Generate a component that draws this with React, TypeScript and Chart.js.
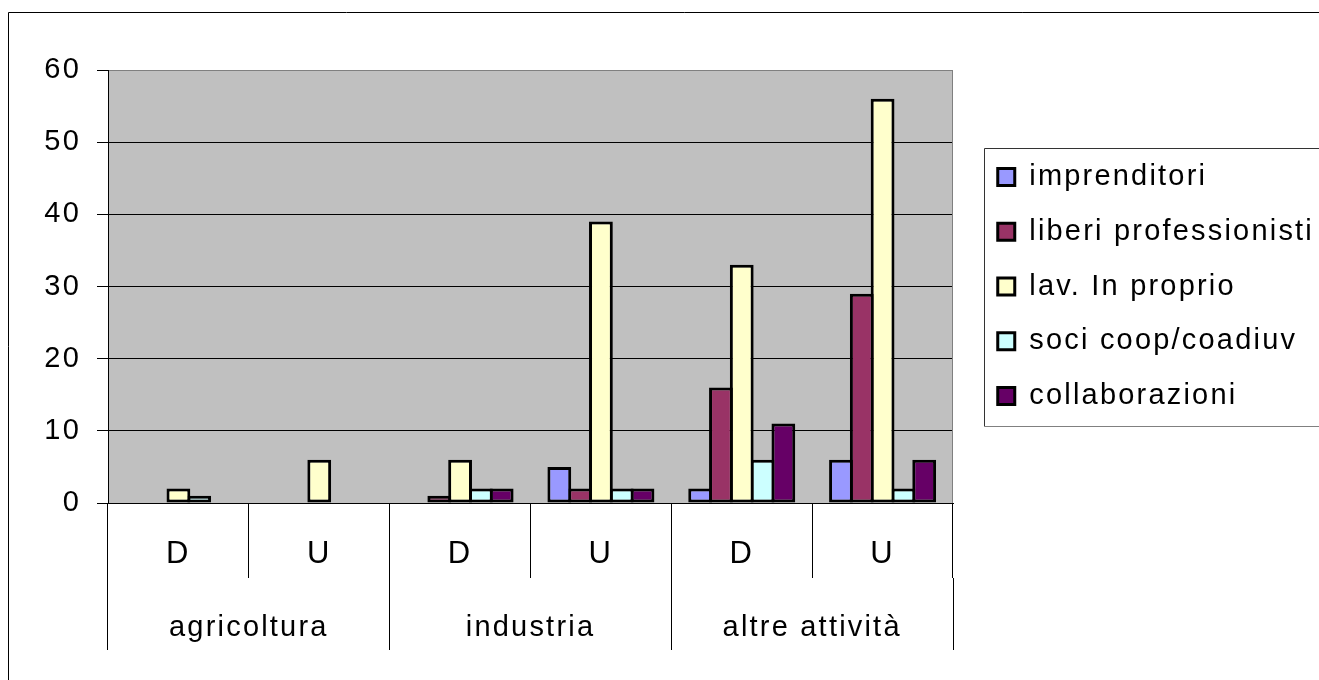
import { useEffect, useRef } from 'react';
import { Chart, registerables } from 'chart.js';

Chart.register(...registerables);

// ---- data ----
const categories = ['D', 'U', 'D', 'U', 'D', 'U'];
const groups = ['agricoltura', 'industria', 'altre attività'];
const seriesNames = ['imprenditori', 'liberi professionisti', 'lav. In proprio', 'soci coop/coadiuv', 'collaborazioni'];
const imprenditori = [0, 0, 0, 5, 2, 6];
const liberiProfessionisti = [0, 0, 1, 2, 16, 29];
const lavInProprio = [2, 6, 6, 39, 33, 56];
const sociCoop = [1, 0, 2, 2, 6, 2];
const collaborazioni = [0, 0, 2, 2, 11, 6];
const yMin = 0;
const yMax = 60;
const yStep = 10;

const seriesColors = ['#9999FF', '#993366', '#FFFFCC', '#CCFFFF', '#660066'];
const seriesValues = [imprenditori, liberiProfessionisti, lavInProprio, sociCoop, collaborazioni];

const FAMILY = '"Liberation Sans", Arial, Helvetica, sans-serif';
const FONT = { family: FAMILY, size: 29 };
const FONT_DU = { family: FAMILY, size: 31 };
const LETTER_SPACING = '2.2px';
const LEGEND_PAD = 25.75;
const TARGET_RIGHT = 953;

const decor = {
  id: 'decor',
  beforeUpdate(chart: any) {
    chart.ctx.letterSpacing = LETTER_SPACING;
  },
  beforeDraw(chart: any) {
    const ctx = chart.ctx;
    ctx.letterSpacing = LETTER_SPACING;
    ctx.save();
    ctx.strokeStyle = '#000';
    ctx.lineWidth = 1;
    ctx.beginPath();
    ctx.moveTo(8.5, 720);
    ctx.lineTo(8.5, 12.5);
    ctx.lineTo(chart.width + 20, 12.5);
    ctx.stroke();
    const a = chart.chartArea;
    ctx.fillStyle = '#C0C0C0';
    ctx.fillRect(a.left, a.top, a.right - a.left, a.bottom - a.top);
    ctx.restore();
  },
  beforeDatasetsDraw(chart: any) {
    const ctx = chart.ctx;
    const a = chart.chartArea;
    ctx.save();
    ctx.strokeStyle = '#808080';
    ctx.lineWidth = 1;
    ctx.beginPath();
    ctx.moveTo(Math.round(a.right) - 0.5, a.top);
    ctx.lineTo(Math.round(a.right) - 0.5, a.bottom);
    ctx.stroke();
    ctx.restore();
  },
  afterDraw(chart: any) {
    const lg = chart.legend;
    if (!lg || !lg.columnSizes || !lg.columnSizes.length) return;
    const ctx = chart.ctx;
    const colH = lg.columnSizes[0].height;
    const y0 = (lg.top + LEGEND_PAD + lg.bottom - colH) / 2;
    const n = seriesNames.length;
    const top = Math.round(y0 - 15) + 0.5;
    const bottom = Math.round(y0 + (n - 1) * (FONT.size + LEGEND_PAD) + FONT.size + 15) + 0.5;
    const left = Math.round(lg.left + LEGEND_PAD - 14) + 0.5;
    const right = chart.width + 20;
    ctx.save();
    ctx.lineWidth = 1;
    ctx.strokeStyle = '#333';
    ctx.beginPath();
    ctx.moveTo(right, top);
    ctx.lineTo(left, top);
    ctx.lineTo(left, bottom);
    ctx.stroke();
    ctx.strokeStyle = '#808080';
    ctx.beginPath();
    ctx.moveTo(left, bottom);
    ctx.lineTo(right, bottom);
    ctx.stroke();
    ctx.restore();
  },
};

export default function App() {
  const ref = useRef<HTMLCanvasElement>(null);

  useEffect(() => {
    if (!ref.current) return;
    const options: any = {
      responsive: false,
      animation: false,
      devicePixelRatio: 1,
      layout: { padding: { left: 0, top: 70, right: 41, bottom: 22 } },
      plugins: {
        tooltip: { enabled: false },
        legend: {
          position: 'right',
          align: 'center',
          fullSize: false,
          maxWidth: 600,
          labels: {
            font: FONT,
            color: '#000',
            boxWidth: 17,
            boxHeight: 17,
            padding: LEGEND_PAD,
          },
        },
      },
      scales: {
        x: {
          type: 'category',
          position: 'bottom',
          weight: 0,
          offset: true,
          grid: {
            offset: true,
            drawOnChartArea: false,
            drawTicks: true,
            tickLength: 75,
            color: '#000',
            lineWidth: 1,
          },
          border: { display: true, color: '#000', width: 1 },
          ticks: { font: FONT_DU, color: '#000', padding: -42.4, maxRotation: 0, autoSkip: false },
          afterFit: (s: any) => { s.height = 75; },
        },
        x2: {
          type: 'category',
          labels: groups,
          position: 'bottom',
          weight: 1,
          offset: true,
          grid: {
            offset: true,
            drawOnChartArea: false,
            drawTicks: true,
            tickLength: 72,
            color: '#000',
            lineWidth: 1,
          },
          border: { display: false },
          ticks: { font: FONT, color: '#000', padding: -39.5, maxRotation: 0, autoSkip: false },
          afterFit: (s: any) => { s.height = 80; },
        },
        y: {
          type: 'linear',
          position: 'left',
          min: yMin,
          max: yMax,
          ticks: { stepSize: yStep, font: FONT, color: '#000', padding: 16 },
          grid: {
            color: (c: any) => (c.tick && c.tick.value === yMax ? '#808080' : '#000'),
            tickColor: '#000',
            tickLength: 11,
            drawTicks: true,
            lineWidth: 1,
          },
          border: { display: true, color: '#000', width: 1 },
          afterFit: (s: any) => { s.width = 108; },
        },
        yRight: {
          type: 'linear',
          position: 'right',
          display: true,
          grid: { display: false, drawTicks: false },
          ticks: { display: false },
          border: { display: false },
          afterFit: (s: any) => { s.width = 19; },
        },
      },
    };
    const chart = new Chart(ref.current, {
      type: 'bar',
      data: {
        labels: categories,
        datasets: seriesNames.map((name, i) => ({
          label: name,
          data: seriesValues[i],
          backgroundColor: seriesColors[i],
          borderColor: '#000',
          borderWidth: 3,
          borderSkipped: false,
          inflateAmount: 0,
          categoryPercentage: 0.7385,
          barPercentage: 1.144,
          xAxisID: 'x',
          yAxisID: 'y',
        })),
      },
      options,
      plugins: [decor],
    });
    // keep the plot area's right edge where the reference has it
    for (let k = 0; k < 2; k++) {
      const d = chart.chartArea.right - TARGET_RIGHT;
      if (Math.abs(d) < 0.05) break;
      const cfg: any = chart.config.options;
      cfg.layout.padding.right = Math.max(0, cfg.layout.padding.right + d);
      chart.update();
    }
    return () => chart.destroy();
  }, []);

  return (
    <div
      style={{
        position: 'fixed',
        left: 0,
        top: 0,
        width: 1319,
        height: 680,
        overflow: 'hidden',
        background: '#fff',
      }}
    >
      <canvas ref={ref} width={1360} height={680} style={{ display: 'block' }} />
    </div>
  );
}
